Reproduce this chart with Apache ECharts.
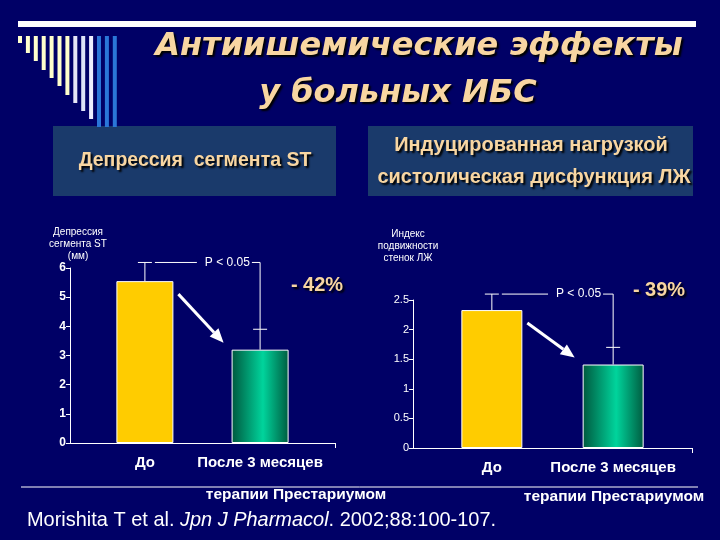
<!DOCTYPE html>
<html>
<head>
<meta charset="utf-8">
<title>Антиишемические эффекты у больных ИБС</title>
<script src="https://cdn.jsdelivr.net/npm/echarts@6/dist/echarts.min.js"></script>
<style>
    html, body {margin: 0; padding: 0; background: #000066;}
    #chart {width: 720px; height: 540px;}
</style>
</head>
<body>
<div id="chart"></div>
<script>
    // данные, считанные со слайда
    var groups = ['До', 'После 3 месяцев'];
    var stDepression = [5.55, 3.2];        // мм
    var stDepressionErr = [0.64, 0.7];
    var wallIndex = [2.33, 1.41];          // индекс подвижности стенок ЛЖ
    var wallIndexErr = [0.27, 0.29];
    var changes = ['- 42%', '- 39%'];
    var pText = 'P < 0.05';

    var BG = '#000066';
    var PEACH = '#f8d6a2';
    var X_MIN = 0.35, X_MAX = 2.65;

    var myChart = echarts.init(document.getElementById('chart'));

    function greenFill() {
        return new echarts.graphic.LinearGradient(0, 0, 1, 0, [
            {offset: 0, color: '#00583e'},
            {offset: 0.55, color: '#00d49c'},
            {offset: 1, color: '#005c40'}
        ]);
    }

    function barData(values) {
        return values.map(function (v, i) {
            return {value: [i + 1, v], itemStyle: {color: i === 0 ? '#ffcc00' : greenFill()}};
        });
    }

    function errData(values, errs) {
        return values.map(function (v, i) {
            return [i + 1, v, v + errs[i]];
        });
    }

    function errorItem(params, api) {
        var a = api.coord([api.value(0), api.value(1)]);
        var b = api.coord([api.value(0), api.value(2)]);
        return {
            type: 'group', children: [
                {type: 'line', shape: {x1: a[0], y1: a[1], x2: b[0], y2: b[1]}, style: {stroke: '#fff', lineWidth: 1}},
                {type: 'line', shape: {x1: b[0] - 7, y1: b[1], x2: b[0] + 7, y2: b[1]}, style: {stroke: '#fff', lineWidth: 1}}
            ]
        };
    }

    // скобка "P < 0.05" от верха ошибки первого столбца к второму
    function bracketItem(params, api) {
        var t1 = api.value(1), t2 = api.value(2);
        var p1 = api.coord([1, t1]), p2 = api.coord([2, t1]), p3 = api.coord([2, t2]);
        var pt = api.coord([1.69, t1]);
        return {
            type: 'group', children: [
                {
                    type: 'polyline',
                    shape: {points: [[p1[0] + 10, p1[1]], [p2[0], p2[1]], [p3[0], p3[1]]]},
                    style: {stroke: '#fff', fill: null, lineWidth: 1}
                },
                {
                    type: 'text', x: pt[0], y: pt[1],
                    style: {
                        text: pText, fill: '#fff', font: '12px "Liberation Sans"',
                        align: 'center', verticalAlign: 'middle',
                        backgroundColor: BG, padding: [1, 2, 1, 8]
                    }
                }
            ]
        };
    }

    function arrowItem(halfBar) {
        return function (params, api) {
            var a = api.coord([1, api.value(1)]), b = api.coord([2, api.value(2)]);
            var x1 = a[0] + halfBar + 5, y1 = a[1] + 13;
            var x2 = b[0] - halfBar - 8, y2 = b[1] - 7;
            var ang = Math.atan2(y2 - y1, x2 - x1), L = 14, W = 6;
            var bx = x2 - L * Math.cos(ang), by = y2 - L * Math.sin(ang);
            var nx = -Math.sin(ang) * W, ny = Math.cos(ang) * W;
            return {
                type: 'group', children: [
                    {type: 'line', shape: {x1: x1, y1: y1, x2: bx, y2: by}, style: {stroke: '#fff', lineWidth: 3}},
                    {type: 'polygon', shape: {points: [[x2, y2], [bx + nx, by + ny], [bx - nx, by - ny]]}, style: {fill: '#fff'}}
                ]
            };
        };
    }

    function xAxisFor(idx) {
        return {
            gridIndex: idx, type: 'value', min: X_MIN, max: X_MAX,
            splitLine: {show: false},
            axisLine: {lineStyle: {color: '#fff', width: 1}},
            axisTick: {show: true, customValues: [X_MAX], length: 5, lineStyle: {color: '#fff'}},
            axisLabel: {
                customValues: [1, 2],
                formatter: function (v) { return groups[Math.round(v) - 1]; },
                color: '#fff', fontWeight: 'bold', fontSize: 15, margin: 12,
                fontFamily: 'Liberation Sans'
            }
        };
    }

    var shadowText = {textShadowColor: '#000', textShadowBlur: 2, textShadowOffsetX: 2, textShadowOffsetY: 2};

    // декоративные полоски слева вверху
    var stripes = [];
    var stripeBottoms = [43, 53, 61, 70, 78, 86, 95, 103, 111, 119, 127, 127, 127];
    var stripeColors = ['#ffffcc', '#ffffcc', '#ffffcc', '#ffffcc', '#ffffcc', '#ffffcc', '#ffffcc',
        '#e6e6f6', '#dde3f8', '#eeeeff', '#2a76d8', '#2a76d8', '#2a76d8'];
    for (var i = 0; i < stripeBottoms.length; i++) {
        stripes.push({
            type: 'rect', shape: {x: 18 + i * 7.9, y: 36, width: 4, height: stripeBottoms[i] - 36},
            style: {fill: stripeColors[i]}
        });
    }

    var graphics = [
        {type: 'rect', shape: {x: 18, y: 21, width: 678, height: 6}, style: {fill: '#fff'}},
        {type: 'rect', shape: {x: 53, y: 126, width: 283, height: 70}, style: {fill: '#1a3a6b'}},
        {type: 'rect', shape: {x: 368, y: 126, width: 325, height: 70}, style: {fill: '#1a3a6b'}},
        {
            type: 'text', x: 419, y: 47,
            style: Object.assign({
                text: 'Антиишемические эффекты', fill: PEACH, align: 'center', verticalAlign: 'middle',
                font: 'italic bold 32px "DejaVu Sans"'
            }, shadowText)
        },
        {
            type: 'text', x: 398, y: 94,
            style: Object.assign({
                text: 'у больных ИБС', fill: PEACH, align: 'center', verticalAlign: 'middle',
                font: 'italic bold 32px "DejaVu Sans"'
            }, shadowText)
        },
        {
            type: 'text', x: 195, y: 161,
            style: Object.assign({
                text: 'Депрессия  сегмента ST', fill: PEACH, align: 'center', verticalAlign: 'middle',
                font: 'bold 19.5px "Liberation Sans"'
            }, shadowText)
        },
        {
            type: 'text', x: 531, y: 145,
            style: Object.assign({
                text: 'Индуцированная нагрузкой', fill: PEACH, align: 'center', verticalAlign: 'middle',
                font: 'bold 20px "Liberation Sans"'
            }, shadowText)
        },
        {
            type: 'text', x: 534, y: 177,
            style: Object.assign({
                text: 'систолическая дисфункция ЛЖ', fill: PEACH, align: 'center', verticalAlign: 'middle',
                font: 'bold 20px "Liberation Sans"'
            }, shadowText)
        },
        {
            type: 'text', x: 317, y: 285,
            style: Object.assign({
                text: changes[0], fill: PEACH, align: 'center', verticalAlign: 'middle',
                font: 'bold 20px "Liberation Sans"'
            }, shadowText)
        },
        {
            type: 'text', x: 659, y: 290,
            style: Object.assign({
                text: changes[1], fill: PEACH, align: 'center', verticalAlign: 'middle',
                font: 'bold 20px "Liberation Sans"'
            }, shadowText)
        },
        {type: 'line', shape: {x1: 21, y1: 487, x2: 698, y2: 487}, style: {stroke: '#fff', lineWidth: 1}},
        {
            type: 'text', x: 296, y: 495,
            style: {
                text: 'терапии Престариумом', fill: '#fff', align: 'center', verticalAlign: 'middle',
                font: 'bold 15.5px "Liberation Sans"'
            }
        },
        {
            type: 'text', x: 614, y: 497,
            style: {
                text: 'терапии Престариумом', fill: '#fff', align: 'center', verticalAlign: 'middle',
                font: 'bold 15.5px "Liberation Sans"'
            }
        },
        {
            type: 'text', x: 27, y: 520, scaleX: 0.95,
            style: {
                text: 'Morishita T et al. {i|Jpn J Pharmacol}. 2002;88:100-107.',
                fill: '#fff', align: 'left', verticalAlign: 'middle',
                font: '21px "Liberation Sans"',
                rich: {i: {fontStyle: 'italic', fontSize: 21, fontFamily: 'Liberation Sans', fill: '#fff'}}
            }
        }
    ].concat(stripes);

    myChart.setOption({
        backgroundColor: BG,
        animation: false,
        textStyle: {fontFamily: 'Liberation Sans'},
        grid: [
            {left: 70, top: 268, width: 265, height: 175},
            {left: 413, top: 300, width: 279, height: 148}
        ],
        xAxis: [xAxisFor(0), xAxisFor(1)],
        yAxis: [
            {
                gridIndex: 0, type: 'value', min: 0, max: 6, interval: 1,
                splitLine: {show: false},
                axisLine: {show: true, onZero: false, lineStyle: {color: '#fff'}},
                axisTick: {show: true, length: 4, lineStyle: {color: '#fff'}},
                axisLabel: {color: '#fff', fontSize: 12, fontWeight: 'bold', margin: 4},
                name: 'Депрессия\nсегмента ST\n(мм)', nameLocation: 'end', nameGap: 4,
                nameTextStyle: {color: '#fff', fontSize: 10, lineHeight: 12, align: 'center', padding: [0, 0, 0, 16]}
            },
            {
                gridIndex: 1, type: 'value', min: 0, max: 2.5, interval: 0.5,
                splitLine: {show: false},
                axisLine: {show: true, onZero: false, lineStyle: {color: '#fff'}},
                axisTick: {show: true, length: 4, lineStyle: {color: '#fff'}},
                axisLabel: {color: '#fff', fontSize: 11, margin: 4},
                name: 'Индекс\nподвижности\nстенок ЛЖ', nameLocation: 'end', nameGap: 36,
                nameTextStyle: {color: '#fff', fontSize: 10, lineHeight: 12, align: 'center', padding: [0, 10, 0, 0]}
            }
        ],
        series: [
            {
                type: 'bar', xAxisIndex: 0, yAxisIndex: 0, barWidth: 57,
                itemStyle: {borderColor: '#fff', borderWidth: 1},
                data: barData(stDepression)
            },
            {type: 'custom', xAxisIndex: 0, yAxisIndex: 0, renderItem: errorItem, data: errData(stDepression, stDepressionErr)},
            {
                type: 'custom', xAxisIndex: 0, yAxisIndex: 0, renderItem: bracketItem,
                data: [[1, stDepression[0] + stDepressionErr[0], stDepression[1] + stDepressionErr[1]]]
            },
            {
                type: 'custom', xAxisIndex: 0, yAxisIndex: 0, renderItem: arrowItem(28.5),
                data: [[1, stDepression[0], stDepression[1]]]
            },
            {
                type: 'bar', xAxisIndex: 1, yAxisIndex: 1, barWidth: 61,
                itemStyle: {borderColor: '#fff', borderWidth: 1},
                data: barData(wallIndex)
            },
            {type: 'custom', xAxisIndex: 1, yAxisIndex: 1, renderItem: errorItem, data: errData(wallIndex, wallIndexErr)},
            {
                type: 'custom', xAxisIndex: 1, yAxisIndex: 1, renderItem: bracketItem,
                data: [[1, wallIndex[0] + wallIndexErr[0], wallIndex[1] + wallIndexErr[1]]]
            },
            {
                type: 'custom', xAxisIndex: 1, yAxisIndex: 1, renderItem: arrowItem(30.5),
                data: [[1, wallIndex[0], wallIndex[1]]]
            }
        ],
        graphic: graphics
    });
</script>
</body>
</html>
